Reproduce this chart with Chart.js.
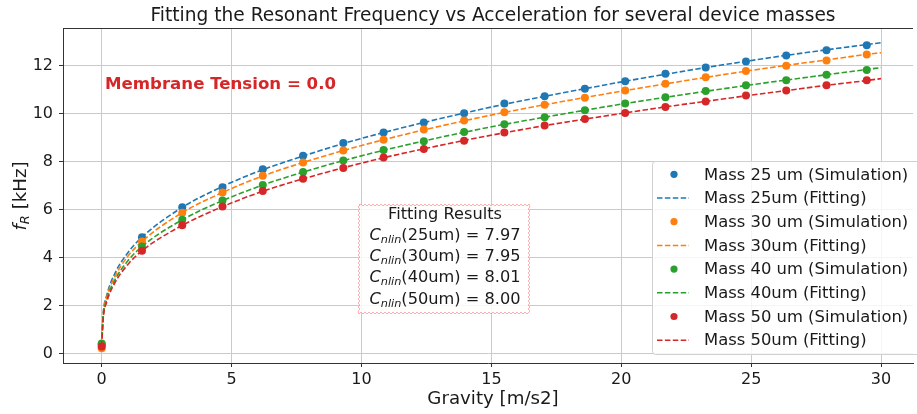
<!DOCTYPE html>
<html>
<head>
<meta charset="utf-8">
<script src="https://cdn.jsdelivr.net/npm/chart.js@4.4.1/dist/chart.umd.min.js"></script>
<style>
  html, body { margin: 0; padding: 0; background: #fff; }
  canvas { display: block; }
</style>
</head>
<body>
<canvas id="chart" width="917" height="414"></canvas>
<script>
// simulated points
const gravity = [0, 1.55, 3.1, 4.65, 6.2, 7.75, 9.3, 10.85, 12.4, 13.95, 15.5, 17.05, 18.6, 20.15, 21.7, 23.25, 24.8, 26.35, 27.9, 29.45];
const sim25 = [0.38, 4.85, 6.10, 6.94, 7.69, 8.25, 8.78, 9.22, 9.64, 10.03, 10.43, 10.73, 11.05, 11.36, 11.67, 11.93, 12.18, 12.43, 12.65, 12.86];
const sim30 = [0.23, 4.68, 5.88, 6.72, 7.42, 7.97, 8.47, 8.92, 9.35, 9.72, 10.07, 10.38, 10.67, 10.97, 11.25, 11.53, 11.79, 12.01, 12.22, 12.47];
const sim40 = [0.42, 4.47, 5.58, 6.39, 7.03, 7.58, 8.05, 8.49, 8.86, 9.24, 9.57, 9.86, 10.15, 10.43, 10.69, 10.95, 11.19, 11.40, 11.63, 11.83];
const sim50 = [0.30, 4.29, 5.35, 6.14, 6.78, 7.29, 7.74, 8.18, 8.53, 8.88, 9.22, 9.51, 9.78, 10.04, 10.29, 10.51, 10.76, 10.97, 11.19, 11.40];

// fitted curves
const fitX = [0, 0.05, 0.2, 0.5, 1.0, 1.55, 3.1, 4.65, 6.2, 7.75, 9.3, 10.85, 12.4, 13.95, 15.5, 17.05, 18.6, 20.15, 21.7, 23.25, 24.8, 26.35, 27.9, 29.45, 30];
const fit25 = [0.35, 1.55, 2.45, 3.33, 4.20, 4.86, 6.10, 6.97, 7.67, 8.24, 8.76, 9.22, 9.64, 10.03, 10.40, 10.73, 11.05, 11.36, 11.65, 11.93, 12.19, 12.44, 12.67, 12.89, 12.97];
const fit30 = [0.30, 1.50, 2.36, 3.20, 4.05, 4.68, 5.88, 6.72, 7.41, 7.97, 8.47, 8.92, 9.33, 9.71, 10.06, 10.38, 10.68, 10.97, 11.25, 11.52, 11.78, 12.02, 12.25, 12.48, 12.55];
const fit40 = [0.35, 1.43, 2.26, 3.06, 3.86, 4.47, 5.58, 6.38, 7.03, 7.57, 8.05, 8.48, 8.87, 9.23, 9.56, 9.86, 10.15, 10.43, 10.69, 10.94, 11.18, 11.41, 11.63, 11.85, 11.93];
const fit50 = [0.30, 1.37, 2.17, 2.94, 3.71, 4.29, 5.35, 6.13, 6.77, 7.29, 7.75, 8.17, 8.54, 8.89, 9.21, 9.51, 9.78, 10.04, 10.29, 10.52, 10.75, 10.97, 11.19, 11.39, 11.47];

const colors = ['#1f77b4', '#ff7f0e', '#2ca02c', '#d62728'];
const simLabels = ['Mass 25 um (Simulation)', 'Mass 30 um (Simulation)', 'Mass 40 um (Simulation)', 'Mass 50 um (Simulation)'];
const fitLabels = ['Mass 25um (Fitting)', 'Mass 30um (Fitting)', 'Mass 40um (Fitting)', 'Mass 50um (Fitting)'];
const fitResults = ['(25um) = 7.97', '(30um) = 7.95', '(40um) = 8.01', '(50um) = 8.00'];

const xTicks = [0, 5, 10, 15, 20, 25, 30];
const yTicks = [0, 2, 4, 6, 8, 10, 12];

const FONT = '"DejaVu Sans", Verdana, sans-serif';
const INK = '#1a1a1a';

const sims = [sim25, sim30, sim40, sim50];
const fits = [fit25, fit30, fit40, fit50];

const datasets = [];
sims.forEach((s, i) => {
  datasets.push({
    label: simLabels[i],
    data: gravity.map((g, k) => ({ x: g, y: s[k] })),
    showLine: false,
    pointRadius: 4,
    pointHoverRadius: 4,
    pointBorderWidth: 0,
    pointBackgroundColor: colors[i],
    backgroundColor: colors[i],
  });
  datasets.push({
    label: fitLabels[i],
    data: fitX.map((g, k) => ({ x: g, y: fits[i][k] })),
    showLine: true,
    pointRadius: 0,
    borderColor: colors[i],
    borderWidth: 1.6,
    borderDash: [5.5, 2.4],
    cubicInterpolationMode: 'monotone',
    fill: false,
  });
});
datasets.forEach((d, i) => { d.order = datasets.length - i; });

function richWidth(ctx, parts) {
  let w = 0;
  parts.forEach(p => { ctx.font = p.font; w += ctx.measureText(p.text).width; });
  return w;
}
function drawRich(ctx, parts, x, y) {
  parts.forEach(p => {
    ctx.font = p.font;
    ctx.fillText(p.text, x, y + (p.dy || 0));
    x += ctx.measureText(p.text).width;
  });
}

function sawRect(ctx, x0, y0, x1, y1, step, amp) {
  ctx.beginPath();
  let flip = 1;
  ctx.moveTo(x0, y0);
  for (let x = x0 + step; x <= x1; x += step) { ctx.lineTo(x, y0 + amp * (flip = -flip)); }
  for (let y = y0 + step; y <= y1; y += step) { ctx.lineTo(x1 + amp * (flip = -flip), y); }
  for (let x = x1 - step; x >= x0; x -= step) { ctx.lineTo(x, y1 + amp * (flip = -flip)); }
  for (let y = y1 - step; y >= y0; y -= step) { ctx.lineTo(x0 + amp * (flip = -flip), y); }
  ctx.closePath();
}

const decor = {
  id: 'decor',
  afterDraw(chart) {
    const ctx = chart.ctx;
    const a = chart.chartArea;
    ctx.save();

    // top spine
    ctx.strokeStyle = '#333';
    ctx.lineWidth = 1;
    ctx.beginPath();
    ctx.moveTo(a.left, a.top + 0.5);
    ctx.lineTo(a.right, a.top + 0.5);
    ctx.stroke();

    ctx.fillStyle = INK;
    ctx.textBaseline = 'alphabetic';

    // title
    ctx.font = '18.6px ' + FONT;
    ctx.textAlign = 'center';
    ctx.fillText('Fitting the Resonant Frequency vs Acceleration for several device masses', 493, 21);

    // x axis title
    ctx.font = '18.2px ' + FONT;
    ctx.fillText('Gravity [m/s2]', 493, 404);

    // y axis title
    ctx.save();
    ctx.translate(26, 196);
    ctx.rotate(-Math.PI / 2);
    ctx.textAlign = 'left';
    const yParts = [
      { text: 'f', font: 'italic 18.2px ' + FONT },
      { text: 'R', font: 'italic 13px ' + FONT, dy: 3 },
      { text: ' [kHz]', font: '18.2px ' + FONT },
    ];
    drawRich(ctx, yParts, -richWidth(ctx, yParts) / 2, 0);
    ctx.restore();

    // annotation
    ctx.fillStyle = '#d62728';
    ctx.font = 'bold 16.6px ' + FONT;
    ctx.textAlign = 'left';
    ctx.fillText('Membrane Tension = 0.0', 105, 89);

    // fitting results box
    ctx.fillStyle = 'rgba(255,255,255,0.85)';
    ctx.fillRect(359, 205, 170, 108);
    ctx.strokeStyle = 'rgba(255,110,110,0.55)';
    ctx.lineWidth = 1;
    sawRect(ctx, 359, 205, 529, 313, 2, 1);
    ctx.stroke();
    ctx.fillStyle = INK;
    ctx.font = '16.2px ' + FONT;
    ctx.textAlign = 'center';
    ctx.fillText('Fitting Results', 445, 219);
    ctx.textAlign = 'left';
    fitResults.forEach((t, i) => {
      const parts = [
        { text: 'C', font: 'italic 16.2px ' + FONT },
        { text: 'nlin', font: 'italic 11.3px ' + FONT, dy: 3 },
        { text: t, font: '16.2px ' + FONT },
      ];
      drawRich(ctx, parts, 445 - richWidth(ctx, parts) / 2, 240 + i * 21.2);
    });

    // legend
    const lx = 652.5, ly = 161.5, lw = 270, lh = 193;
    ctx.fillStyle = 'rgba(255,255,255,0.8)';
    ctx.strokeStyle = '#d0d0d0';
    ctx.lineWidth = 1;
    ctx.beginPath();
    ctx.roundRect(lx, ly, lw, lh, 3);
    ctx.fill();
    ctx.stroke();
    ctx.font = '16.4px ' + FONT;
    ctx.textAlign = 'left';
    ctx.textBaseline = 'middle';
    chart.data.datasets.forEach((d, i) => {
      const cy = 174.3 + i * 23.7;
      if (d.showLine) {
        ctx.save();
        ctx.strokeStyle = d.borderColor;
        ctx.lineWidth = 1.5;
        ctx.setLineDash(d.borderDash);
        ctx.beginPath();
        ctx.moveTo(657, cy);
        ctx.lineTo(689, cy);
        ctx.stroke();
        ctx.restore();
      } else {
        ctx.fillStyle = d.pointBackgroundColor;
        ctx.beginPath();
        ctx.arc(674, cy, 3.6, 0, Math.PI * 2);
        ctx.fill();
      }
      ctx.fillStyle = INK;
      ctx.fillText(d.label, 704, cy + 1);
    });

    ctx.restore();
  }
};

const gridOpts = {
  color: '#cacaca',
  lineWidth: 1,
  drawTicks: true,
  tickLength: 4,
  tickColor: '#333',
};

new Chart(document.getElementById('chart'), {
  type: 'scatter',
  data: { datasets },
  options: {
    responsive: false,
    animation: false,
    devicePixelRatio: 1,
    layout: { padding: { top: 28, left: 0, right: 0, bottom: 0 } },
    plugins: {
      legend: { display: false },
      tooltip: { enabled: false },
      title: { display: false },
    },
    scales: {
      x: {
        type: 'linear',
        min: -1.49,
        max: 31.23,
        afterBuildTicks: s => { s.ticks = xTicks.map(v => ({ value: v })); },
        afterFit: s => { s.height = 51; },
        grid: gridOpts,
        border: { color: '#333', width: 1 },
        ticks: { color: INK, font: { family: FONT, size: 16 }, padding: 3, maxRotation: 0 },
      },
      y: {
        type: 'linear',
        min: -0.39,
        max: 13.58,
        afterBuildTicks: s => { s.ticks = yTicks.map(v => ({ value: v })); },
        afterFit: s => { s.width = 63; },
        grid: gridOpts,
        border: { color: '#333', width: 1 },
        ticks: { color: INK, font: { family: FONT, size: 16 }, padding: 6 },
      },
    },
  },
  plugins: [decor],
});
</script>
</body>
</html>
